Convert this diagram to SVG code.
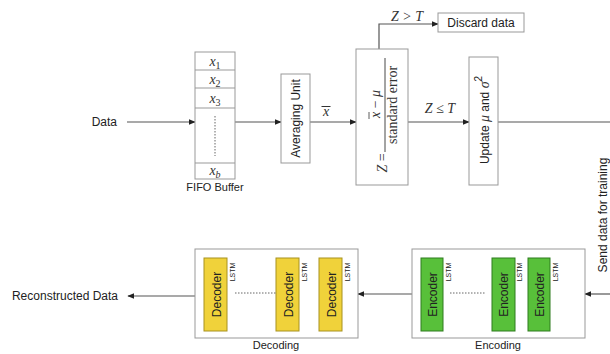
<svg xmlns="http://www.w3.org/2000/svg" width="610" height="354" viewBox="0 0 610 354">
<defs>
<marker id="ah" viewBox="0 0 10 10" refX="9" refY="5" markerWidth="7" markerHeight="7" orient="auto" markerUnits="userSpaceOnUse"><path d="M0,1 L10,5 L0,9 z" fill="#222"/></marker>
<style>
.box{fill:#fff;stroke:#999;stroke-width:1}
.ln{fill:none;stroke:#555;stroke-width:1.2}
.t{font-family:"Liberation Sans",Arial,sans-serif;font-size:12px;fill:#222}
.s{font-family:"Liberation Sans",Arial,sans-serif;font-size:11px;fill:#222}
.m{font-family:"Liberation Serif","Times New Roman",serif;font-size:14px;fill:#333}
.mi{font-family:"Liberation Serif","Times New Roman",serif;font-style:italic;font-size:14px;fill:#333}
.dec{fill:#F0D23A;stroke:#A8921E;stroke-width:1}
.enc{fill:#58C03A;stroke:#2E7D1E;stroke-width:1}
.lstm{font-family:"Liberation Sans",Arial,sans-serif;font-size:7px;fill:#222}
.dot{fill:none;stroke:#666;stroke-width:1;stroke-dasharray:1.5,1.5}
.bar{stroke:#333;stroke-width:1}
</style>
</defs>

<g id="connectors">
<line class="ln" x1="127" y1="122" x2="195" y2="122" marker-end="url(#ah)"/>
<line class="ln" x1="235" y1="122" x2="281" y2="122" marker-end="url(#ah)"/>
<line class="ln" x1="310" y1="122" x2="356" y2="122" marker-end="url(#ah)"/>
<polyline class="ln" points="379,49 379,24 438,24" marker-end="url(#ah)"/>
<line class="ln" x1="408" y1="122" x2="469" y2="122" marker-end="url(#ah)"/>
<line class="ln" x1="498" y1="122" x2="610" y2="122"/>
<line class="ln" x1="610" y1="294" x2="585" y2="294" marker-end="url(#ah)"/>
<line class="ln" x1="412" y1="294" x2="358" y2="294" marker-end="url(#ah)"/>
<line class="ln" x1="195" y1="296" x2="128" y2="296" marker-end="url(#ah)"/>
<text class="mi" x="326" y="116" text-anchor="middle" font-size="16">x</text>
<path class="bar" d="M321.5,106.5 H330.5"/>
<text class="mi" x="407" y="21" text-anchor="middle">Z &gt; T</text>
<text class="mi" x="440" y="113" text-anchor="middle">Z ≤ T</text>
<text class="t" transform="translate(607,215) rotate(-90)" text-anchor="middle">Send data for training</text>
</g>

<g id="data">
<text class="t" x="117" y="126" text-anchor="end">Data</text>
</g>

<g id="fifo">
<rect class="box" x="195" y="52" width="40" height="127"/>
<line x1="195" y1="70" x2="235" y2="70" stroke="#999"/>
<line x1="195" y1="88" x2="235" y2="88" stroke="#999"/>
<line x1="195" y1="108" x2="235" y2="108" stroke="#999"/>
<line x1="195" y1="163" x2="235" y2="163" stroke="#999"/>
<text class="mi" x="215" y="66" text-anchor="middle" font-size="15">x<tspan font-size="10" font-style="normal" dy="3">1</tspan></text>
<text class="mi" x="215" y="84" text-anchor="middle" font-size="15">x<tspan font-size="10" font-style="normal" dy="3">2</tspan></text>
<text class="mi" x="215" y="103" text-anchor="middle" font-size="15">x<tspan font-size="10" font-style="normal" dy="3">3</tspan></text>
<text class="mi" x="215" y="175" text-anchor="middle" font-size="15">x<tspan font-size="10" dy="3">b</tspan></text>
<line class="dot" x1="215" y1="116" x2="215" y2="156"/>
<text class="s" x="215" y="191" text-anchor="middle">FIFO Buffer</text>
</g>

<g id="averaging">
<rect class="box" x="281" y="74" width="29" height="89"/>
<text class="t" transform="translate(299.5,118.5) rotate(-90)" text-anchor="middle">Averaging Unit</text>
</g>

<g id="zscore">
<rect class="box" x="356" y="49" width="52" height="136"/>
<g transform="translate(382,117) rotate(-90)">
<text class="mi" x="-46" y="5" text-anchor="middle">Z <tspan font-style="normal">=</tspan></text>
<line x1="-35" y1="3" x2="59" y2="3" stroke="#333" stroke-width="0.9"/>
<text class="mi" x="13" y="-2" text-anchor="middle">x <tspan font-style="normal">−</tspan> μ</text>
<line x1="-2" y1="-13" x2="5" y2="-13" stroke="#333" stroke-width="0.8"/>
<text class="m" x="12" y="15" text-anchor="middle">standard error</text>
</g>
</g>

<g id="discard">
<rect class="box" x="438" y="13" width="86" height="19"/>
<text class="t" x="481" y="27" text-anchor="middle">Discard data</text>
</g>

<g id="update">
<rect class="box" x="469" y="57" width="29" height="128"/>
<text class="t" font-size="13" transform="translate(488.5,120) rotate(-90)" text-anchor="middle">Update <tspan class="mi" font-size="17">μ</tspan> and <tspan class="mi" font-size="17">σ</tspan><tspan font-size="10" dy="-7">2</tspan></text>
</g>

<g id="encoding">
<rect class="box" x="412" y="249" width="173" height="89"/>
<rect class="enc" x="421" y="258" width="22" height="73"/>
<rect class="enc" x="492" y="258" width="23" height="73"/>
<rect class="enc" x="528" y="258" width="22" height="73"/>
<text class="t" font-size="13" transform="translate(436.5,294.5) rotate(-90)" text-anchor="middle">Encoder</text>
<text class="t" font-size="13" transform="translate(508,294.5) rotate(-90)" text-anchor="middle">Encoder</text>
<text class="t" font-size="13" transform="translate(543.5,294.5) rotate(-90)" text-anchor="middle">Encoder</text>
<text class="lstm" transform="translate(451,272) rotate(-90)" text-anchor="middle">LSTM</text>
<text class="lstm" transform="translate(522,272) rotate(-90)" text-anchor="middle">LSTM</text>
<text class="lstm" transform="translate(558,272) rotate(-90)" text-anchor="middle">LSTM</text>
<line class="dot" x1="450" y1="293" x2="486" y2="293"/>
<text class="s" x="498" y="349" text-anchor="middle">Encoding</text>
</g>

<g id="decoding">
<rect class="box" x="195" y="249" width="163" height="89"/>
<rect class="dec" x="204" y="258" width="23" height="73"/>
<rect class="dec" x="276" y="258" width="23" height="73"/>
<rect class="dec" x="319" y="258" width="23" height="73"/>
<text class="t" font-size="13" transform="translate(220.5,294.5) rotate(-90)" text-anchor="middle">Decoder</text>
<text class="t" font-size="13" transform="translate(292.5,294.5) rotate(-90)" text-anchor="middle">Decoder</text>
<text class="t" font-size="13" transform="translate(335.5,294.5) rotate(-90)" text-anchor="middle">Decoder</text>
<text class="lstm" transform="translate(235,272) rotate(-90)" text-anchor="middle">LSTM</text>
<text class="lstm" transform="translate(307,272) rotate(-90)" text-anchor="middle">LSTM</text>
<text class="lstm" transform="translate(350,272) rotate(-90)" text-anchor="middle">LSTM</text>
<line class="dot" x1="235" y1="293" x2="276" y2="293"/>
<text class="s" x="276" y="349" text-anchor="middle">Decoding</text>
</g>

<g id="reconstructed">
<text class="t" x="118" y="300" text-anchor="end">Reconstructed Data</text>
</g>
</svg>
